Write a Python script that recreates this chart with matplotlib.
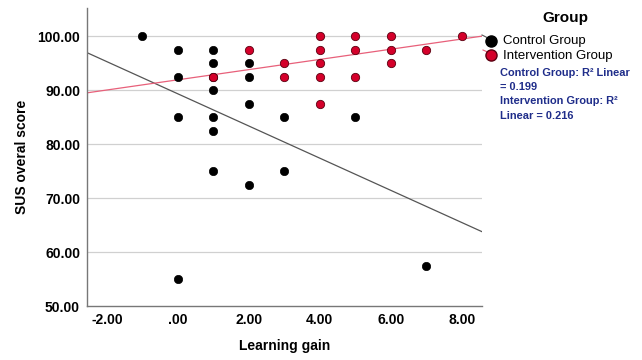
import matplotlib
matplotlib.use("Agg")
import matplotlib.pyplot as plt
from matplotlib.lines import Line2D
import numpy as np

plt.rcParams['font.family'] = ['Liberation Sans', 'DejaVu Sans']

# Data
control_x = [-1, 0, 0, 0, 0, 1, 1, 1, 1, 1, 1, 1, 2, 2, 2, 2, 3, 3, 5, 7]
control_y = [100, 97.5, 92.5, 85, 55, 97.5, 95, 92.5, 90, 85, 82.5, 75,
             95, 92.5, 87.5, 72.5, 85, 75, 85, 57.5]
interv_x = [1, 2, 3, 3, 4, 4, 4, 4, 4, 5, 5, 5, 6, 6, 6, 7, 8]
interv_y = [92.5, 97.5, 95, 92.5, 100, 97.5, 95, 92.5, 87.5,
            100, 97.5, 92.5, 100, 97.5, 95, 97.5, 100]
# Fit lines (intercept, slope)
control_fit = (89.3, -2.98)
interv_fit = (91.9, 0.944)

x_ticks = [-2, 0, 2, 4, 6, 8]
x_tick_labels = ['-2.00', '.00', '2.00', '4.00', '6.00', '8.00']
y_ticks = [50, 60, 70, 80, 90, 100]
y_tick_labels = ['50.00', '60.00', '70.00', '80.00', '90.00', '100.00']

black = '#000000'
red = '#d4002a'
navy = '#1f2d8a'

fig = plt.figure(figsize=(6.42, 3.6), dpi=100)
ax = fig.add_axes([87/642, 1 - 306/360, (481.7 - 87)/642, (306 - 8)/360])

xlim = (-2.56, 8.56)
ax.set_xlim(*xlim)
ax.set_ylim(50, 105.2)

for v in y_ticks[1:]:
    ax.axhline(v, color='#d0d0d0', lw=0.9, zorder=0)

xs = np.array(xlim)
ax.plot(xs, control_fit[0] + control_fit[1] * xs, color='#555555', lw=0.9, zorder=2)
ax.plot(xs, interv_fit[0] + interv_fit[1] * xs, color='#e8607a', lw=0.9, zorder=2)

ax.scatter(control_x, control_y, s=36, color=black, edgecolor='#000000', lw=0.5, zorder=3)
ax.scatter(interv_x, interv_y, s=36, color=red, edgecolor='#5a0010', lw=0.6, zorder=4)

ax.set_xticks(x_ticks)
ax.set_xticklabels(x_tick_labels, fontsize=10, fontweight='bold')
ax.set_yticks(y_ticks)
ax.set_yticklabels(y_tick_labels, fontsize=10, fontweight='bold')
ax.tick_params(length=0, pad=5)
for s in ['top', 'right']:
    ax.spines[s].set_visible(False)
for s in ['left', 'bottom']:
    ax.spines[s].set_color('#777777')
    ax.spines[s].set_linewidth(1.0)

ax.set_xlabel('Learning gain', fontsize=10, fontweight='bold', labelpad=9)
ax.set_ylabel('SUS overal score', fontsize=10, fontweight='bold', labelpad=6)

# Legend
def fx(px):
    return px / 642
def fy(py):
    return 1 - py / 360

fig.text(fx(565), fy(18), 'Group', fontsize=11, fontweight='bold', ha='center', va='center')
fig.add_artist(Line2D([fx(482), fx(492)], [fy(35), fy(40)], color='#555555', lw=0.8))
fig.add_artist(Line2D([fx(490.7)], [fy(40.7)], marker='o', ms=8, color=black, mec='black'))
fig.add_artist(Line2D([fx(483), fx(492)], [fy(50), fy(54)], color='#e8607a', lw=0.8))
fig.add_artist(Line2D([fx(490.7)], [fy(54.5)], marker='o', ms=8, color=red, mec='#5a0010'))
fig.text(fx(503), fy(41), 'Control Group', fontsize=9.5, va='center', ha='left')
fig.text(fx(503), fy(56), 'Intervention Group', fontsize=9.5, va='center', ha='left')
blue_lines = ['Control Group: R\u00b2 Linear', '= 0.199', 'Intervention Group: R\u00b2', 'Linear = 0.216']
for i, t in enumerate(blue_lines):
    fig.text(fx(500), fy(73 + 14.2 * i), t, fontsize=7.9, fontweight='bold', color=navy,
             va='center', ha='left')

fig.savefig('out.png', dpi=100)
